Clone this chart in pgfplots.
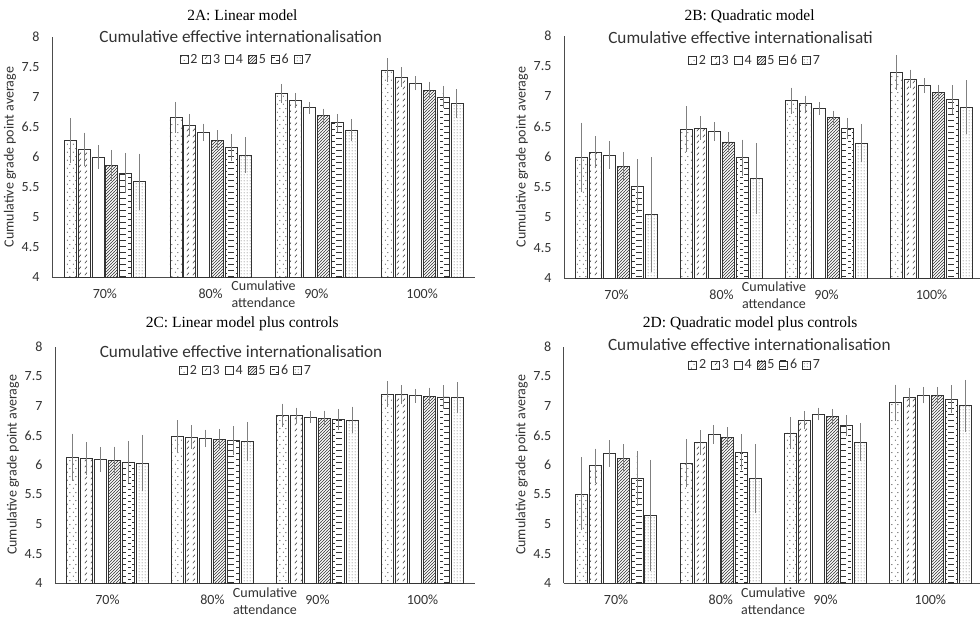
\documentclass[border=0pt]{standalone}
\usepackage{pgfplots}
\pgfplotsset{compat=1.18}
\usepackage{pgfplotstable}
\usetikzlibrary{patterns}
\usepackage{fontspec}
\setmainfont{Carlito}
\newfontfamily\serifttl{Liberation Serif}

\pgfdeclarepatternformonly{sdots}{\pgfqpoint{0pt}{0pt}}{\pgfqpoint{6pt}{8pt}}{\pgfqpoint{6pt}{8pt}}{%
  \pgfpathcircle{\pgfqpoint{1.5pt}{2pt}}{0.6pt}\pgfpathcircle{\pgfqpoint{4.5pt}{6pt}}{0.6pt}\pgfusepath{fill}}
\pgfdeclarepatternformonly{ddash}{\pgfqpoint{0pt}{0pt}}{\pgfqpoint{6pt}{6pt}}{\pgfqpoint{6pt}{6pt}}{%
  \pgfsetlinewidth{0.6pt}\pgfpathmoveto{\pgfqpoint{1pt}{1pt}}\pgfpathlineto{\pgfqpoint{3.5pt}{4pt}}\pgfusepath{stroke}}
\pgfdeclarepatternformonly{dnel}{\pgfqpoint{-1pt}{-1pt}}{\pgfqpoint{4pt}{4pt}}{\pgfqpoint{3pt}{3pt}}{%
  \pgfsetlinewidth{0.6pt}\pgfpathmoveto{\pgfqpoint{-0.1pt}{-0.1pt}}\pgfpathlineto{\pgfqpoint{3.1pt}{3.1pt}}\pgfusepath{stroke}}
\pgfdeclarepatternformonly{hdash}{\pgfqpoint{0pt}{-1pt}}{\pgfqpoint{12pt}{6pt}}{\pgfqpoint{12pt}{6pt}}{%
  \pgfsetlinewidth{0.9pt}\pgfpathmoveto{\pgfqpoint{0pt}{0pt}}\pgfpathlineto{\pgfqpoint{6pt}{0pt}}%
  \pgfpathmoveto{\pgfqpoint{8pt}{3pt}}\pgfpathlineto{\pgfqpoint{11pt}{3pt}}\pgfusepath{stroke}}
\pgfdeclarepatternformonly{ddots}{\pgfqpoint{0pt}{0pt}}{\pgfqpoint{2.6pt}{2.6pt}}{\pgfqpoint{2.6pt}{2.6pt}}{%
  \pgfpathcircle{\pgfqpoint{1.3pt}{1.3pt}}{0.5pt}\pgfusepath{fill}}

% x: 0=70%, 1=80%, 2=90%, 3=100%
\pgfplotstableread{
x v2 e2 v3 e3 v4 e4 v5 e5 v6 e6 v7 e7
0 6.27 0.31 6.13 0.21 6.00 0.13 5.86 0.19 5.73 0.27 5.59 0.40
1 6.66 0.19 6.53 0.12 6.41 0.08 6.28 0.10 6.16 0.16 6.03 0.23
2 7.06 0.09 6.94 0.06 6.82 0.03 6.69 0.05 6.57 0.08 6.45 0.12
3 7.45 0.13 7.33 0.10 7.23 0.05 7.11 0.08 7.00 0.12 6.89 0.17
}\tabA
\pgfplotstableread{
x v2 e2 v3 e3 v4 e4 v5 e5 v6 e6 v7 e7
0 5.99 0.51 6.08 0.20 6.03 0.16 5.85 0.17 5.52 0.38 5.05 0.88
1 6.46 0.31 6.48 0.13 6.42 0.09 6.25 0.10 5.99 0.23 5.64 0.52
2 6.93 0.15 6.88 0.07 6.80 0.04 6.65 0.05 6.47 0.11 6.23 0.25
3 7.40 0.22 7.29 0.09 7.18 0.06 7.07 0.06 6.95 0.17 6.82 0.38
}\tabB
\pgfplotstableread{
x v2 e2 v3 e3 v4 e4 v5 e5 v6 e6 v7 e7
0 6.13 0.33 6.11 0.21 6.09 0.14 6.07 0.17 6.05 0.29 6.03 0.41
1 6.49 0.20 6.47 0.13 6.45 0.08 6.43 0.11 6.41 0.18 6.40 0.26
2 6.84 0.13 6.83 0.07 6.81 0.03 6.79 0.06 6.77 0.11 6.76 0.16
3 7.20 0.15 7.19 0.09 7.17 0.05 7.16 0.08 7.15 0.13 7.14 0.19
}\tabC
\pgfplotstableread{
x v2 e2 v3 e3 v4 e4 v5 e5 v6 e6 v7 e7
0 5.51 0.55 5.99 0.22 6.19 0.16 6.11 0.17 5.77 0.39 5.15 0.87
1 6.03 0.34 6.38 0.14 6.52 0.09 6.47 0.10 6.22 0.23 5.77 0.51
2 6.54 0.20 6.76 0.08 6.86 0.04 6.82 0.06 6.67 0.11 6.39 0.25
3 7.05 0.24 7.14 0.10 7.18 0.07 7.18 0.07 7.11 0.17 7.00 0.37
}\tabD

\pgfplotsset{
  panel/.style={
    scale only axis, clip=false,
    ybar=1.9pt, bar width=12pt,
    xmin=-0.5, xmax=3.5, ymin=4, ymax=8,
    enlargelimits=false,
    axis x line=bottom, axis y line=left,
    axis line style={-, draw=black!70, line width=0.8pt},
    major tick length=0pt,
    xtick={0,1,2,3}, xticklabels={70\%,80\%,90\%,100\%},
    ytick={4,4.5,5,5.5,6,6.5,7,7.5,8},
    /pgf/number format/assume math mode=true,
    /pgf/number format/fixed,
    tick label style={font=\fontsize{14}{17}\selectfont, text=black!80},
    yticklabel style={xshift=-9pt},
    xticklabel style={yshift=-8pt},
    xlabel={Cumulative\\attendance},
    xlabel style={align=center, at={(rel axis cs:0.5,0)}, anchor=center, yshift=-17.5pt,
      font=\fontsize{14}{17}\selectfont, text=black!80},
    ylabel={Cumulative grade point average},
    every axis y label/.style={at={(rel axis cs:0,0.5)}, rotate=90, anchor=center, yshift=42pt,
      font=\fontsize{14}{17}\selectfont, text=black!80},
    legend columns=6,
    legend style={draw=none, fill=none, anchor=center,
      font=\fontsize{14}{17}\selectfont, text=black!80,
      /tikz/every even column/.append style={column sep=3pt},
      inner sep=0pt},
    legend image code/.code={\draw[##1] (0pt,-4pt) rectangle (8pt,4pt);},
  },
  s2/.style={draw=black!80, line width=0.7pt, pattern=sdots, pattern color=black!80},
  s3/.style={draw=black!80, line width=0.7pt, pattern=ddash, pattern color=black!80},
  s4/.style={draw=black!80, line width=0.7pt, fill=white},
  s5/.style={draw=black!80, line width=0.7pt, pattern=dnel, pattern color=black!80},
  s6/.style={draw=black!80, line width=0.7pt, pattern=hdash, pattern color=black!80},
  s7/.style={draw=black!80, line width=0.7pt, pattern=ddots, pattern color=black!80},
  eb/.style={error bars/y dir=both, error bars/y explicit,
      error bars/error bar style={draw=black!50, line width=0.8pt},
      error bars/error mark options={draw=black!50, mark size=4pt, line width=0.8pt}},
}

\newcommand\allbars[1]{%
  \addplot[s2,eb] table[x=x,y=v2,y error=e2]{#1};
  \addplot[s3,eb] table[x=x,y=v3,y error=e3]{#1};
  \addplot[s4,eb] table[x=x,y=v4,y error=e4]{#1};
  \addplot[s5,eb] table[x=x,y=v5,y error=e5]{#1};
  \addplot[s6,eb] table[x=x,y=v6,y error=e6]{#1};
  \addplot[s7,eb] table[x=x,y=v7,y error=e7]{#1};
  \legend{2,3,4,5,6,7}
}

\begin{document}
\begin{tikzpicture}[x=1pt,y=1pt]
\useasboundingbox (0,0) rectangle (980,618);
\fill[white] (0,0) rectangle (980,618);

% Panel A
\begin{axis}[panel, at={(52pt,341pt)}, anchor=south west, width=423pt, height=240pt,
  legend style={at={(rel axis cs:0.46,1)}, yshift=-22.7pt}]
\allbars{\tabA}
\node[font=\serifttl\fontsize{15.5}{18}\selectfont] at (rel axis cs:0.450,1) [yshift=21.3pt] {2A: Linear model};
\node[font=\fontsize{17.2}{20}\selectfont, text=black!80] at (rel axis cs:0.446,1) {Cumulative effective internationalisation};
\end{axis}

% Panel B
\begin{axis}[panel, at={(564pt,340pt)}, anchor=south west, width=420pt, height=242pt,
  legend style={at={(rel axis cs:0.455,1)}, yshift=-24.3pt}]
\allbars{\tabB}
\node[font=\serifttl\fontsize{15.5}{18}\selectfont] at (rel axis cs:0.442,1) [yshift=19.7pt] {2B: Quadratic model};
\node[font=\fontsize{17.2}{20}\selectfont, text=black!80, anchor=west, inner sep=0pt] at (rel axis cs:0.105,1) [yshift=-1.6pt] {Cumulative effective internationalisati};
\end{axis}

% Panel C
\begin{axis}[panel, at={(55pt,34.7pt)}, anchor=south west, width=420pt, height=236.7pt,
  legend style={at={(rel axis cs:0.455,1)}, yshift=-24pt}]
\allbars{\tabC}
\node[font=\serifttl\fontsize{15.5}{18}\selectfont] at (rel axis cs:0.446,1) [yshift=22.7pt] {2C: Linear model plus controls};
\node[font=\fontsize{17.2}{20}\selectfont, text=black!80] at (rel axis cs:0.443,1) [yshift=-5pt] {Cumulative effective internationalisation};
\end{axis}

% Panel D
\begin{axis}[panel, at={(563.7pt,34.7pt)}, anchor=south west, width=419pt, height=236.7pt,
  legend style={at={(rel axis cs:0.457,1)}, yshift=-18.3pt}]
\allbars{\tabD}
\node[font=\serifttl\fontsize{15.5}{18}\selectfont] at (rel axis cs:0.445,1) [yshift=22.7pt] {2D: Quadratic model plus controls};
\node[font=\fontsize{17.2}{20}\selectfont, text=black!80] at (rel axis cs:0.443,1) [yshift=1.7pt] {Cumulative effective internationalisation};
\end{axis}
\end{tikzpicture}
\end{document}
